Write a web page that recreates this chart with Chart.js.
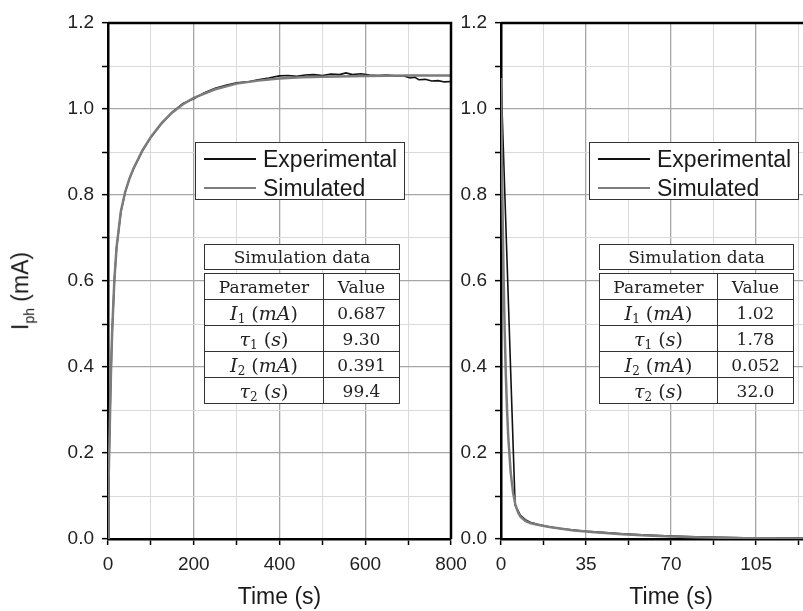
<!DOCTYPE html>
<html>
<head>
<meta charset="utf-8">
<script src="https://cdn.jsdelivr.net/npm/chart.js@4"></script>
<style>
  html, body { margin: 0; padding: 0; background: #fff; overflow: hidden; }
  body { width: 803px; height: 611px; position: relative; font-family: "Liberation Sans", Arial, sans-serif; color: #1a1a1a; }
  canvas { position: absolute; top: 0; }
  #riseChart { left: 0; }
  #decayChart { left: 455px; }
  .ytitle { position: absolute; left: 22px; top: 291px; transform: translate(-50%, -50%) rotate(-90deg); font-size: 23px; white-space: nowrap; }
  .ytitle sub { font-size: 14px; }
  .legend { position: absolute; top: 142px; width: 208px; height: 56px; border: 1.5px solid #333; background: #fff; }
  .legend .row { position: absolute; left: 8px; height: 28px; display: flex; align-items: center; font-size: 23px; }
  .legend .swatch { width: 52px; height: 2px; margin-right: 7px; }
  .tbl { position: absolute; border-collapse: collapse; background: #fff; font-family: "DejaVu Serif", serif; font-size: 17px; color: #222; table-layout: fixed; }
  .tbl td { border: 1.5px solid #333; text-align: center; padding: 0; height: 25px; line-height: 18px; overflow: hidden; white-space: nowrap; }
  .tbl .m { font-size: 19px; }
  .tbl i { font-style: italic; }
  .tbl sub { font-size: 12px; line-height: 0; vertical-align: -3px; }
</style>
</head>
<body>
<canvas id="riseChart" width="480" height="611"></canvas>
<canvas id="decayChart" width="410" height="611"></canvas>
<div class="ytitle">I<sub>ph</sub> (mA)</div>
<div id="overlays"></div>
<script>
// rise (left panel), time in s, current in mA
const riseTime = [0, 1, 2, 4, 6, 8, 10, 15, 20, 30, 40, 50, 60, 80, 100, 125, 150, 175, 200, 250, 300, 350, 400, 450, 500, 600, 700, 800];
const riseSimulated = [0, 0.074, 0.141, 0.256, 0.350, 0.427, 0.490, 0.605, 0.678, 0.762, 0.807, 0.838, 0.863, 0.903, 0.935, 0.967, 0.992, 1.011, 1.026, 1.046, 1.059, 1.066, 1.071, 1.074, 1.075, 1.077, 1.078, 1.078];
const riseExpTime = [0, 1, 2, 4, 6, 8, 10, 15, 20, 30, 40, 50, 60, 80, 100, 125, 150, 175, 200, 225, 250, 275, 300, 325, 350, 375, 400, 420, 440, 460, 480, 500, 520, 540, 555, 570, 590, 610, 630, 650, 670, 690, 705, 715, 725, 740, 755, 770, 785, 800];
const riseExperimental = [0, 0.070, 0.138, 0.252, 0.347, 0.425, 0.488, 0.603, 0.677, 0.760, 0.806, 0.838, 0.862, 0.902, 0.934, 0.966, 0.993, 1.013, 1.024, 1.038, 1.048, 1.055, 1.061, 1.063, 1.068, 1.072, 1.077, 1.078, 1.076, 1.079, 1.080, 1.078, 1.081, 1.080, 1.084, 1.080, 1.082, 1.079, 1.078, 1.079, 1.077, 1.077, 1.072, 1.074, 1.068, 1.069, 1.065, 1.066, 1.063, 1.064];

// decay (right panel)
const decayTime = [0, 0.5, 1, 1.5, 2, 2.5, 3, 4, 5, 6, 7, 8, 10, 12, 15, 20, 25, 30, 40, 50, 60, 70, 80, 90, 100, 110, 120, 130, 140];
const decaySimulated = [1.072, 0.821, 0.632, 0.489, 0.380, 0.299, 0.236, 0.154, 0.106, 0.078, 0.062, 0.052, 0.042, 0.037, 0.033, 0.028, 0.024, 0.020, 0.015, 0.011, 0.008, 0.006, 0.004, 0.003, 0.002, 0.002, 0.001, 0.001, 0.001];
const decayExpTime = [0, 5.8, 8, 10, 12, 15, 20, 25, 30, 35, 40, 50, 60, 70, 80, 90, 100, 110, 120, 140];
const decayExperimental = [1.072, 0.079, 0.055, 0.045, 0.039, 0.034, 0.028, 0.024, 0.021, 0.018, 0.016, 0.012, 0.009, 0.007, 0.005, 0.004, 0.003, 0.003, 0.002, 0.002];

// fit tables
const paramLabels = ["<i>I</i><sub>1</sub> (<i>mA</i>)", "<i>τ</i><sub>1</sub> (<i>s</i>)", "<i>I</i><sub>2</sub> (<i>mA</i>)", "<i>τ</i><sub>2</sub> (<i>s</i>)"];
const riseValues = ["0.687", "9.30", "0.391", "99.4"];
const decayValues = ["1.02", "1.78", "0.052", "32.0"];

const seriesNames = ["Experimental", "Simulated"];
const expColor = "#111111";
const simColor = "#7c7c7c";

function pairs(xs, ys) {
    return xs.map((x, i) => ({ x: x, y: ys[i] }));
}

function isMajor(v, step) {
    return Math.abs(v / step - Math.round(v / step)) < 1e-6;
}

const framePlugin = {
    id: "frame",
    afterDraw(chart) {
        const { ctx, chartArea: a } = chart;
        ctx.save();
        ctx.strokeStyle = "#000";
        ctx.lineWidth = 2.5;
        ctx.beginPath();
        ctx.moveTo(a.left, a.top);
        ctx.lineTo(a.right, a.top);
        ctx.lineTo(a.right, a.bottom);
        ctx.stroke();
        ctx.restore();
    }
};

function makeChart(id, simPts, expPts, xMax, xMinor, xMajor, yWidth, padRight) {
    const tickFont = { family: "Liberation Sans", size: 19 };
    return new Chart(document.getElementById(id), {
        type: "line",
        data: {
            datasets: [
                { label: seriesNames[1], data: simPts, borderColor: simColor, borderWidth: 2.5, pointRadius: 0, tension: 0 },
                { label: seriesNames[0], data: expPts, borderColor: expColor, borderWidth: 1.6, pointRadius: 0, tension: 0 }
            ]
        },
        options: {
            responsive: false,
            animation: false,
            layout: { padding: { top: 23, right: padRight, bottom: 0, left: 0 } },
            plugins: { legend: { display: false }, tooltip: { enabled: false } },
            scales: {
                x: {
                    type: "linear",
                    min: 0,
                    max: xMax,
                    afterFit: (s) => { s.height = 72; },
                    ticks: {
                        stepSize: xMinor,
                        autoSkip: false,
                        maxRotation: 0,
                        padding: 8,
                        color: "#222",
                        font: tickFont,
                        callback: (v) => isMajor(v, xMajor) ? String(Math.round(v)) : ""
                    },
                    grid: {
                        color: (c) => isMajor(c.tick.value, xMajor) ? "#a6a6a6" : "#dadada",
                        lineWidth: (c) => isMajor(c.tick.value, xMajor) ? 1.3 : 1,
                        tickColor: "#000",
                        tickLength: 6,
                        tickWidth: 1.5
                    },
                    border: { color: "#000", width: 2.5 },
                    title: {
                        display: true,
                        text: "Time (s)",
                        color: "#1a1a1a",
                        font: { family: "Liberation Sans", size: 23 },
                        padding: { top: 0, bottom: 0 }
                    }
                },
                y: {
                    min: 0,
                    max: 1.2,
                    afterFit: (s) => { s.width = yWidth; },
                    ticks: {
                        stepSize: 0.1,
                        autoSkip: false,
                        padding: 8,
                        color: "#222",
                        font: tickFont,
                        callback: (v) => isMajor(v, 0.2) ? v.toFixed(1) : ""
                    },
                    grid: {
                        color: (c) => isMajor(c.tick.value, 0.2) ? "#a6a6a6" : "#dadada",
                        lineWidth: (c) => isMajor(c.tick.value, 0.2) ? 1.3 : 1,
                        tickColor: "#000",
                        tickLength: 6,
                        tickWidth: 1.5
                    },
                    border: { color: "#000", width: 2.5 }
                }
            }
        },
        plugins: [framePlugin]
    });
}

makeChart("riseChart", pairs(riseTime, riseSimulated), pairs(riseExpTime, riseExperimental), 800, 100, 200, 108, 29);
makeChart("decayChart", pairs(decayTime, decaySimulated), pairs(decayExpTime, decayExperimental), 140, 17.5, 35, 46, 20);

// legends and fit tables
const overlays = document.getElementById("overlays");

function addLegend(left) {
    const box = document.createElement("div");
    box.className = "legend";
    box.style.left = left + "px";
    [expColor, simColor].forEach((color, i) => {
        const row = document.createElement("div");
        row.className = "row";
        row.style.top = (2 + i * 29) + "px";
        row.innerHTML = '<span class="swatch" style="background:' + color + '"></span>' + seriesNames[i];
        box.appendChild(row);
    });
    overlays.appendChild(box);
}

function addTable(left, width, splitWidth, values) {
    const head = document.createElement("table");
    head.className = "tbl";
    head.style.left = left + "px";
    head.style.top = "244px";
    head.style.width = width + "px";
    head.innerHTML = '<tr><td style="height:24px">Simulation data</td></tr>';
    overlays.appendChild(head);

    const body = document.createElement("table");
    body.className = "tbl";
    body.style.left = left + "px";
    body.style.top = "273px";
    body.style.width = width + "px";
    let html = '<colgroup><col style="width:' + splitWidth + 'px"><col></colgroup>';
    html += "<tr><td>Parameter</td><td>Value</td></tr>";
    paramLabels.forEach((p, i) => {
        html += '<tr><td class="m">' + p + "</td><td>" + values[i] + "</td></tr>";
    });
    body.innerHTML = html;
    overlays.appendChild(body);
}

addLegend(195);
addLegend(589);
addTable(204, 196, 119, riseValues);
addTable(599, 195, 118, decayValues);
</script>
</body>
</html>
